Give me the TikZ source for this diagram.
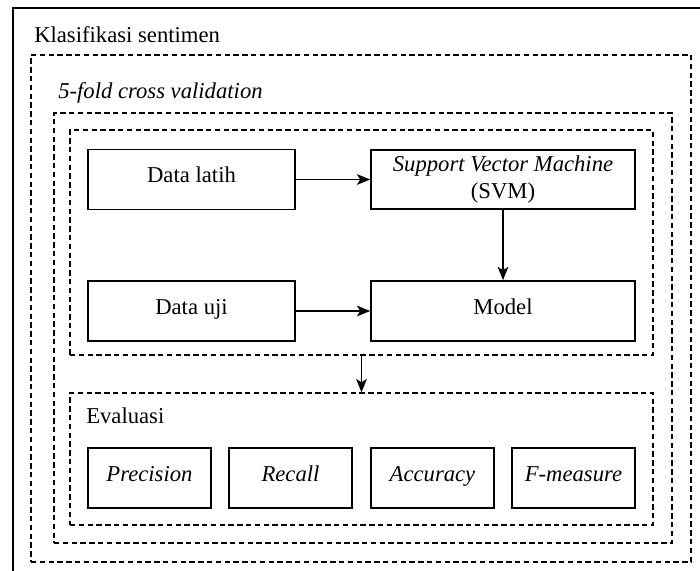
\documentclass[tikz,border=0pt]{standalone}
\usepackage{fontspec}
\setmainfont{Liberation Serif}
\usetikzlibrary{arrows.meta}

\begin{document}
\begin{tikzpicture}[
  x=0.75pt, y=-0.75pt,
  font=\fontsize{17}{20}\selectfont,
  >={Stealth[length=10pt,width=8pt,inset=2.5pt]},
  size/.style 2 args={minimum width=#1*0.75pt, minimum height=#2*0.75pt},
  box/.style={draw, line width=1.2pt, inner sep=0pt, align=center},
  line/.style={box, text height=0.7em, text depth=0.22em},
  group/.style={draw, line width=1pt, dash pattern=on 4pt off 2.6pt, inner sep=0pt},
  title/.style={anchor=base west, inner sep=0pt},
  link/.style={->, line width=1.3pt}]
\useasboundingbox (0,0) rectangle (700,571);
\draw[line width=1.3pt] (13,571) |- (700,8);
\node[title] (klasifikasi) at (34,42) {Klasifikasi sentimen};
\node[group, size={660}{507}] (cv) at (361,308.5) {};
\node[title] (fold) at (58,98) {\itshape 5-fold cross validation};
\node[group, size={618}{430}] (lipat) at (363,328) {};
\node[group, size={583}{225}] (train) at (361.5,242.5) {};
\node[group, size={583}{132}] (eval) at (361.5,459) {};
\node[title] (evaluasi) at (86,423) {Evaluasi};
% pelatihan dan pengujian
\node[line, size={207}{60}] (latih) at (191.5,179.5) {Data latih};
\node[box, size={264}{59}] (svm) at (503,179.5) {\textit{Support Vector Machine}\\(SVM)};
\node[line, size={207}{60}] (uji) at (191.5,311) {Data uji};
\node[line, size={264}{60}] (model) at (503,311) {Model};
% metrik
\node[line, size={123}{60}] (precision) at (149.5,478) {\textit{Precision}};
\node[line, size={123}{60}] (recall) at (290.5,478) {\textit{Recall}};
\node[line, size={123}{60}] (accuracy) at (432.5,478) {\textit{Accuracy}};
\node[line, size={123}{60}] (fmeasure) at (573.5,478) {\textit{F-measure}};
\draw[link] (latih) -- (svm);
\draw[link] (svm) -- (model);
\draw[link] (uji) -- (model);
\draw[link] (train) -- (eval);
\end{tikzpicture}
\end{document}
